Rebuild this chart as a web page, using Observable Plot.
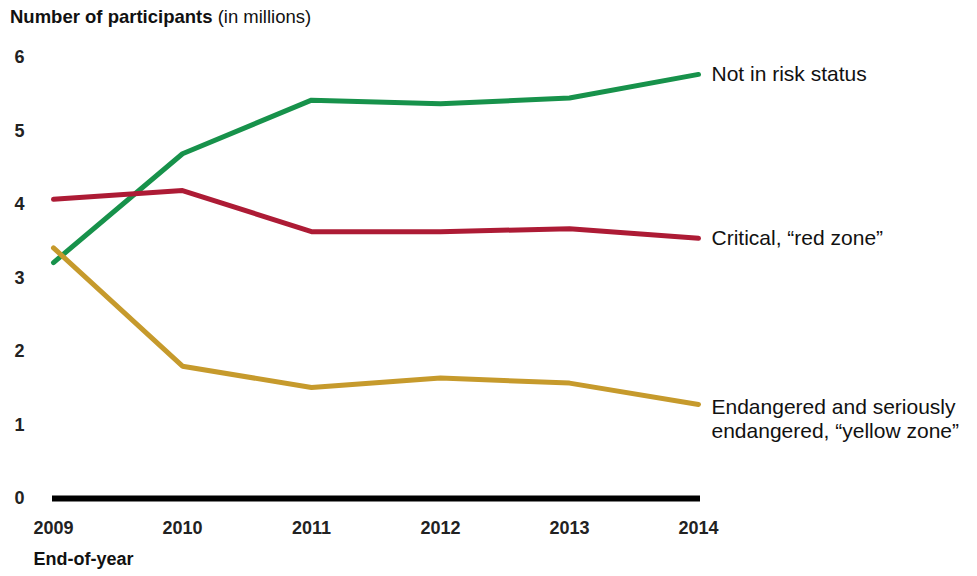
<!DOCTYPE html>
<html>
<head>
<meta charset="utf-8">
<script src="https://cdn.jsdelivr.net/npm/d3@7"></script>
<script src="https://cdn.jsdelivr.net/npm/@observablehq/plot@0.6"></script>
<style>
  body { margin: 0; background: #fff; font-family: "Liberation Sans", Arial, sans-serif; }
  #wrap { position: relative; width: 977px; height: 576px; }
  #title { position: absolute; left: 10px; top: 6px; font-size: 18.5px; color: #111; }
  #title b { font-weight: bold; }
</style>
</head>
<body>
<div id="wrap">
  <div id="title"><b>Number of participants</b> (in millions)</div>
</div>
<script>
const years = [2009, 2010, 2011, 2012, 2013, 2014];
const seriesNames = ["Not in risk status", "Critical, “red zone”", "Endangered and seriously\nendangered, “yellow zone”"];
const notInRisk = [3.21, 4.69, 5.42, 5.37, 5.45, 5.77];
const critical = [4.07, 4.19, 3.63, 3.63, 3.67, 3.54];
const endangered = [3.41, 1.80, 1.51, 1.64, 1.57, 1.28];
const yTicks = [0, 1, 2, 3, 4, 5, 6];
const colors = ["#17924b", "#ad1b35", "#c69a2c"];

const allSeries = [notInRisk, critical, endangered];
const data = [];
allSeries.forEach((vals, i) => {
  vals.forEach((v, j) => data.push({ series: seriesNames[i], year: years[j], value: v }));
});
const lastPoints = allSeries.map((vals, i) => ({ series: seriesNames[i], year: years[years.length - 1], value: vals[vals.length - 1] }));

const axisFont = "'Liberation Sans', Arial, sans-serif";

const chart = Plot.plot({
  width: 977,
  height: 576,
  marginLeft: 53,
  marginRight: 279,
  marginTop: 57,
  marginBottom: 78,
  style: { fontFamily: "'Liberation Sans', Arial, sans-serif", background: "#fff", color: "#222" },
  x: { domain: [2009, 2014] },
  y: { domain: [0, 6] },
  color: { domain: seriesNames, range: colors },
  marks: [
    Plot.axisY({ ticks: yTicks, tickFormat: d => String(d), tickSize: 0, tickPadding: 29, fontSize: 18, fontWeight: "bold", fontFamily: axisFont, label: null }),
    Plot.axisX({ ticks: years, tickFormat: d => String(d), tickSize: 0, tickPadding: 23, fontSize: 18, fontWeight: "bold", fontFamily: axisFont, label: null }),
    Plot.ruleY([0], { x1: 2009, x2: 2014, stroke: "#000", strokeWidth: 6, insetLeft: -1, insetRight: -2 }),
    Plot.line(data, { x: "year", y: "value", z: "series", stroke: "series", strokeWidth: 5, strokeLinejoin: "miter", strokeLinecap: "round" }),
    Plot.text([lastPoints[0], lastPoints[1]], { x: "year", y: "value", text: "series", textAnchor: "start", dx: 13, fontSize: 21, fill: "#111" }),
    Plot.text([lastPoints[2]], { x: "year", y: "value", text: "series", textAnchor: "start", lineAnchor: "top", dx: 13, dy: -8, fontSize: 21, lineHeight: 1.15, fill: "#111" }),
    Plot.text(["End-of-year"], { frameAnchor: "bottom-left", textAnchor: "start", dx: -20, dy: 66, fontSize: 18, fontWeight: "bold", fontFamily: axisFont, fill: "#111" })
  ]
});
document.getElementById("wrap").prepend(chart);
</script>
</body>
</html>
